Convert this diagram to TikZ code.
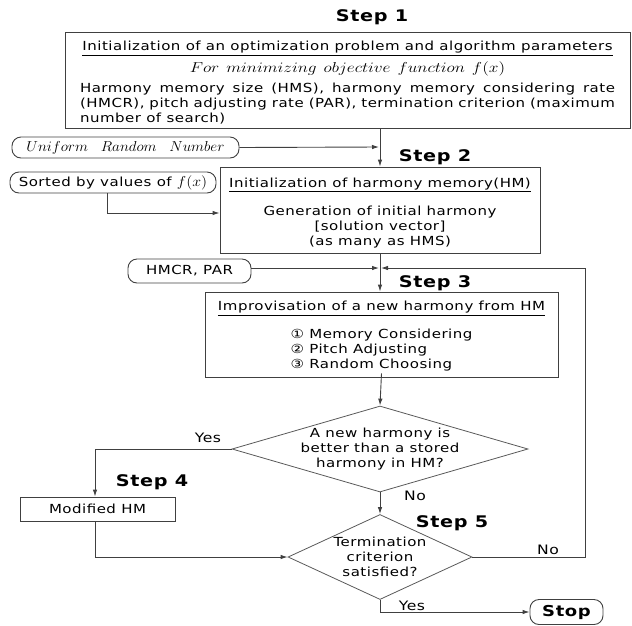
\documentclass[tikz,border=0pt]{standalone}
\usepackage[no-math]{fontspec}
\usepackage{graphicx}
\setmainfont{DejaVu Sans}[FakeStretch=1.2, LetterSpace=4]
\usetikzlibrary{shapes.geometric,arrows.meta}
\tikzset{
  ln/.style={draw=black!75, line width=0.9pt},
  arr/.style={ln, -{Latex[length=7pt,width=4.5pt]}},
  txt/.style={font=\fontsize{12.5}{15}\selectfont},
  box/.style={ln, rectangle, inner sep=0pt, txt},
  boxtext/.style={txt, inner sep=0pt, align=center},
  pill/.style={ln, rectangle, rounded corners=9pt, inner sep=0pt, txt},
  dia/.style={draw=black!65, line width=0.8pt, diamond, inner sep=0pt},
  diatext/.style={txt, align=center, inner sep=0pt},
  steplbl/.style={font=\bfseries\fontsize{16}{17}\selectfont, inner sep=0pt},
  lbl/.style={font=\fontsize{13}{15}\selectfont, inner sep=0pt},
}
\newcommand{\mathwide}[2]{\scalebox{#1}[1]{#2}}
\begin{document}
\begin{tikzpicture}[x=1pt,y=-1pt]
\useasboundingbox (0,0) rectangle (632,625);
% Step labels
\node[steplbl] (st1) at (372,17) {Step 1};
\node[steplbl] (st2) at (435,157) {Step 2};
\node[steplbl] (st3) at (435,283) {Step 3};
\node[steplbl] (st4) at (152,482) {Step 4};
\node[steplbl] (st5) at (452,523) {Step 5};
% Step 1 box
\node[box, minimum width=565pt, minimum height=96pt] (b1) at (347.5,80) {};
\node[boxtext, anchor=north] (b1t) at (347.5,41)
 {\underline{Initialization of an optimization problem and algorithm parameters}\\[5pt]
  \mathwide{1.2}{\fontsize{14}{15}\selectfont $For~minimizing~objective~function~f(x)$}\\[6pt]
  \parbox{535pt}{\fontsize{12.5}{15.2}\selectfont Harmony memory size (HMS), harmony memory considering rate\linebreak (HMCR), pitch adjusting rate (PAR), termination criterion (maximum\linebreak number of search)}};
% inputs
\node[pill, minimum width=227pt, minimum height=21pt] (urn) at (125.5,147.5)
 {\mathwide{1.05}{\fontsize{14.5}{15}\selectfont $Uniform~~Random~~Number$}};
\node[pill, minimum width=206pt, minimum height=21pt] (srt) at (113,182.5)
 {Sorted by values of \mathwide{1.1}{\fontsize{14}{15}\selectfont $f(x)$}};
\node[pill, minimum width=123pt, minimum height=24pt] (hp) at (189.5,271) {HMCR, PAR};
% Step 2 box
\node[box, minimum width=320pt, minimum height=86pt] (b2) at (380,210) {};
\node[boxtext] (b2t) at (380,213)
 {\underline{Initialization of harmony memory(HM)}\\[13pt]
  Generation of initial harmony\\ {[solution vector]}\\ (as many as HMS)};
% Step 3 box
\node[box, minimum width=353pt, minimum height=85pt] (b3) at (381.5,334.5) {};
\node[boxtext] (b3t) at (381.5,337)
 {\underline{Improvisation of a new harmony from HM}\\[11pt]
  \begin{tabular}{@{}l@{}}① Memory Considering\\ ② Pitch Adjusting\\ ③ Random Choosing\end{tabular}};
% diamonds
\node[dia, minimum width=296pt, minimum height=86pt] (d1) at (380,449) {};
\node[diatext] (d1t) at (380,449) {A new harmony is\\ better than a stored\\ harmony in HM?};
\node[dia, minimum width=184pt, minimum height=85pt] (d2) at (380,557) {};
\node[diatext] (d2t) at (380,557) {Termination\\ criterion\\ satisfied?};
% step 4 box
\node[box, minimum width=155pt, minimum height=24pt] (mod) at (97.5,509) {Modified HM};
% stop
\node[pill, minimum width=73pt, minimum height=25pt, font=\bfseries\fontsize{15}{16}\selectfont] (stop) at (566.5,612) {Stop};
% coordinates
\coordinate (j1) at (380,147);
\coordinate (j2) at (380,268);
\coordinate (sb) at (107,213);
\coordinate (lp1) at (585,557);
\coordinate (lp2) at (585,268);
\coordinate (yl) at (95,449);
\coordinate (ml) at (95,557);
\coordinate (sy) at (380,612);
% connectors
\draw[arr] (b1.south -| j1) -- (b2.north -| j1);
\draw[arr] (urn.east) -- ([xshift=-1pt]j1);
\draw[arr] (srt.south -| sb) -- (sb) -- (sb -| b2.west);
\draw[arr] (b2.south -| j2) -- (b3.north -| j2);
\draw[arr] (hp.east |- j2) -- ([xshift=-1pt]j2);
\draw[arr] (d2.east) -- (lp1) -- (lp2) -- ([xshift=1pt]j2);
\draw[arr] ([yshift=4pt]b3.south) -- (d1.north);
\draw[arr] (d1.west) -- (yl) -- (mod.north -| yl);
\draw[arr] (d1.south) -- (d2.north);
\draw[arr] (mod.south -| ml) -- (ml) -- (d2.west);
\draw[arr] (d2.south) -- (sy) -- (stop.west);
% labels
\node[lbl] (yes1) at (208,438) {Yes};
\node[lbl] (no1) at (415,496) {No};
\node[lbl] (no2) at (548,550) {No};
\node[lbl] (yes2) at (412,606) {Yes};
\end{tikzpicture}
\end{document}
